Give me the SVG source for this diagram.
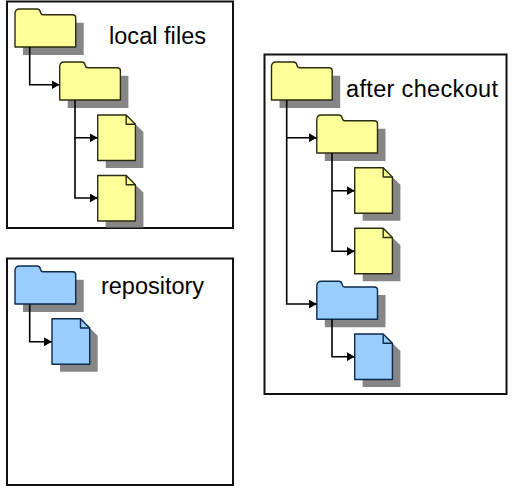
<svg xmlns="http://www.w3.org/2000/svg" width="513" height="488" viewBox="0 0 513 488">
<style>
.box{fill:#fff;stroke:#111;stroke-width:2}
.shadow{fill:#868686}
.y{fill:#ffff99;stroke:#2b2b10;stroke-width:1.4;stroke-linejoin:round}
.b{fill:#99ccff;stroke:#0c2a4a;stroke-width:1.4;stroke-linejoin:round}
.fold{fill:none}
.c{fill:none;stroke:#000;stroke-width:1.6}
text{font-family:"Liberation Sans",Arial,sans-serif;font-size:23.5px;fill:#000}
</style>
<defs>
<marker id="arrow" markerUnits="userSpaceOnUse" markerWidth="8" markerHeight="9" refX="8" refY="4.500" orient="auto"><path d="M0 0L8 4.500L0 9Z" fill="#000"/></marker>
<path id="folder" d="M0 4.500Q0 0 4.500 0H22Q25 0 25.500 3.500Q26 5.700 28 5.700H57.500Q60.700 5.700 60.700 8.500V38H0Z"/>
<path id="fshadow" d="M8 13H60.700V46H8Z M60.700 13.700H68.700V46H60.700Z"/>
<path id="file" d="M0 0H28.500L37.700 9.200V45.500H0Z"/>
<path id="foldmark" d="M28.500 0V9.200H37.700"/>
</defs>
<rect class="box" x="7" y="1.500" width="226" height="226.500"/>
<rect class="box" x="7" y="258.500" width="226" height="226.500"/>
<rect class="box" x="264.500" y="54.500" width="242" height="339.500"/>
<g id="folder-local-root" transform="translate(15 9)"><use href="#fshadow" class="shadow"/><use href="#folder" class="y"/></g>
<g id="folder-local-sub" transform="translate(59.700 62)"><use href="#fshadow" class="shadow"/><use href="#folder" class="y"/></g>
<g id="file-local-1" transform="translate(97.700 115)"><path class="shadow" d="M37.700 9.200L45.700 17V53H8V45.500H37.700Z"/><use href="#file" class="y"/><use href="#foldmark" class="y fold"/></g>
<g id="file-local-2" transform="translate(97.700 175.500)"><path class="shadow" d="M37.700 9.200L45.700 17V52H8V45.500H37.700Z"/><use href="#file" class="y"/><use href="#foldmark" class="y fold"/></g>
<g id="folder-repo-root" transform="translate(15 266)"><use href="#fshadow" class="shadow"/><use href="#folder" class="b"/></g>
<g id="file-repo-1" transform="translate(52 318.800)"><path class="shadow" d="M37.700 9.200L45.700 17V53H8V45.500H37.700Z"/><use href="#file" class="b"/><use href="#foldmark" class="b fold"/></g>
<g id="folder-co-root" transform="translate(271.500 62)"><use href="#fshadow" class="shadow"/><use href="#folder" class="y"/></g>
<g id="folder-co-sub" transform="translate(316.800 115)"><use href="#fshadow" class="shadow"/><use href="#folder" class="y"/></g>
<g id="file-co-1" transform="translate(354.700 167.800)"><path class="shadow" d="M37.700 9.200L45.700 17V53H8V45.500H37.700Z"/><use href="#file" class="y"/><use href="#foldmark" class="y fold"/></g>
<g id="file-co-2" transform="translate(354.700 228.300)"><path class="shadow" d="M37.700 9.200L45.700 17V53H8V45.500H37.700Z"/><use href="#file" class="y"/><use href="#foldmark" class="y fold"/></g>
<g id="folder-co-blue" transform="translate(316.800 281.300)"><use href="#fshadow" class="shadow"/><use href="#folder" class="b"/></g>
<g id="file-co-3" transform="translate(354.700 334)"><path class="shadow" d="M37.700 9.200L45.700 17V53H8V45.500H37.700Z"/><use href="#file" class="b"/><use href="#foldmark" class="b fold"/></g>
<g id="connectors">
<path class="c" d="M29.700 47V84.700H59.500" marker-end="url(#arrow)"/>
<path class="c" d="M75 100V137.800H97.700" marker-end="url(#arrow)"/>
<path class="c" d="M75 137.800V198H97.700" marker-end="url(#arrow)"/>
<path class="c" d="M29.700 304V341.700H52" marker-end="url(#arrow)"/>
<path class="c" d="M286.700 100V137.700H316.800" marker-end="url(#arrow)"/>
<path class="c" d="M286.700 137.700V304H316.800" marker-end="url(#arrow)"/>
<path class="c" d="M332 153V190.700H354.700" marker-end="url(#arrow)"/>
<path class="c" d="M332 190.700V251.300H354.700" marker-end="url(#arrow)"/>
<path class="c" d="M332 319V356.700H354.700" marker-end="url(#arrow)"/>
</g>
<text x="109" y="44" textLength="97">local files</text>
<text x="101" y="294" textLength="103">repository</text>
<text x="346" y="97" textLength="152">after checkout</text>
</svg>
